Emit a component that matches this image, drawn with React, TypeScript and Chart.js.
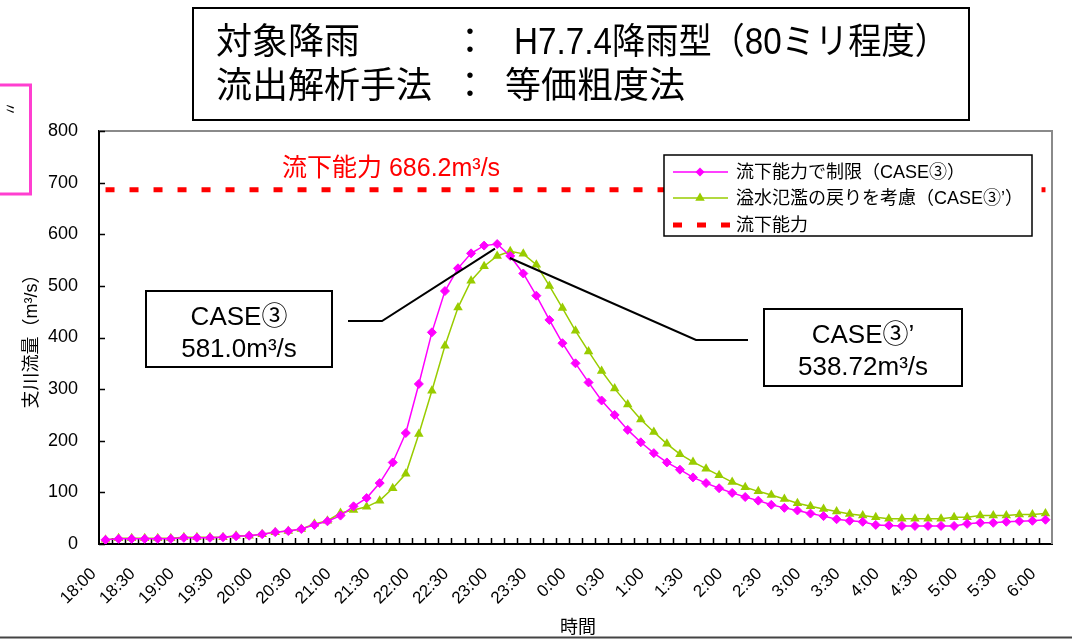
import React, { useEffect, useRef } from "react";
import { Chart, registerables } from "chart.js";

Chart.register(...registerables);

const FONT = "'Liberation Sans', 'Noto Sans CJK JP', sans-serif";

const TIMES = [
  "18:00", "18:10", "18:20", "18:30", "18:40", "18:50",
  "19:00", "19:10", "19:20", "19:30", "19:40", "19:50",
  "20:00", "20:10", "20:20", "20:30", "20:40", "20:50",
  "21:00", "21:10", "21:20", "21:30", "21:40", "21:50",
  "22:00", "22:10", "22:20", "22:30", "22:40", "22:50",
  "23:00", "23:10", "23:20", "23:30", "23:40", "23:50",
  "0:00", "0:10", "0:20", "0:30", "0:40", "0:50",
  "1:00", "1:10", "1:20", "1:30", "1:40", "1:50",
  "2:00", "2:10", "2:20", "2:30", "2:40", "2:50",
  "3:00", "3:10", "3:20", "3:30", "3:40", "3:50",
  "4:00", "4:10", "4:20", "4:30", "4:40", "4:50",
  "5:00", "5:10", "5:20", "5:30", "5:40", "5:50",
  "6:00",
];

const TICK_LABELS = [
  "18:00", "18:30", "19:00", "19:30", "20:00", "20:30", "21:00", "21:30",
  "22:00", "22:30", "23:00", "23:30", "0:00", "0:30", "1:00", "1:30",
  "2:00", "2:30", "3:00", "3:30", "4:00", "4:30", "5:00", "5:30", "6:00",
];

// 流下能力で制限（CASE③）
const CASE3 = [
  8, 10, 10, 10, 10, 10, 12, 12, 12, 13, 15, 16,
  19, 23, 25, 29, 37, 44, 55, 73, 89, 118, 158, 215,
  310, 410, 490, 534, 563, 578, 581, 558, 524, 481, 434, 389,
  350, 313, 278, 250, 221, 197, 176, 158, 144, 129, 118, 108,
  99, 91, 84, 76, 70, 65, 59, 54, 48, 45, 43, 37,
  36, 35, 35, 35, 35, 35, 39, 41, 41, 43, 44, 45,
  47,
];

// 溢水氾濫の戻りを考慮（CASE③’）
const CASE3P = [
  8, 11, 11, 11, 11, 11, 13, 13, 13, 13, 16, 16,
  19, 23, 25, 29, 39, 45, 60, 66, 72, 84, 108, 136,
  213, 297, 384, 458, 510, 538, 558, 567, 562, 541, 500, 457,
  413, 373, 335, 301, 270, 241, 217, 194, 174, 159, 146, 133,
  120, 110, 102, 95, 87, 79, 73, 68, 63, 58, 55, 52,
  49, 49, 49, 49, 49, 52, 52, 55, 55, 55, 57, 57,
  59,
];

const CAPACITY = 686.2;

const SERIES_NAMES = [
  "流下能力で制限（CASE③）",
  "溢水氾濫の戻りを考慮（CASE③’）",
  "流下能力",
];

const Y_MIN = 0;
const Y_MAX = 800;
const Y_STEP = 100;

const COLORS = ["#ff00ff", "#99cc00", "#ff0000"];

function drawDiamond(ctx: CanvasRenderingContext2D, x: number, y: number, r: number, color: string) {
  ctx.save();
  ctx.fillStyle = color;
  ctx.beginPath();
  ctx.moveTo(x - r, y);
  ctx.lineTo(x, y - r);
  ctx.lineTo(x + r, y);
  ctx.lineTo(x, y + r);
  ctx.closePath();
  ctx.fill();
  ctx.restore();
}

function drawTriangle(ctx: CanvasRenderingContext2D, x: number, y: number, r: number, color: string) {
  ctx.save();
  ctx.fillStyle = color;
  ctx.beginPath();
  for (let k = 0; k < 3; k++) {
    const a = -Math.PI / 2 + (k * 2 * Math.PI) / 3;
    const px = x + Math.cos(a) * r;
    const py = y + Math.sin(a) * r;
    if (k === 0) ctx.moveTo(px, py);
    else ctx.lineTo(px, py);
  }
  ctx.closePath();
  ctx.fill();
  ctx.restore();
}

const decor = {
  id: "decor",
  beforeDatasetsDraw(chart: any) {
    const ctx: CanvasRenderingContext2D = chart.ctx;
    const { left, right, top, bottom } = chart.chartArea;
    const xs = chart.scales.x;
    const ys = chart.scales.y;
    ctx.save();
    // plot border (top / right)
    ctx.strokeStyle = "#8a8a8a";
    ctx.lineWidth = 2;
    ctx.beginPath();
    ctx.moveTo(left, top);
    ctx.lineTo(right, top);
    ctx.lineTo(right, bottom);
    ctx.stroke();
    // inward tick marks
    ctx.strokeStyle = "#000";
    ctx.lineWidth = 1.5;
    ctx.beginPath();
    for (let i = 0; i < TIMES.length - 1; i++) {
      const bx = Math.round((xs.getPixelForValue(i) + xs.getPixelForValue(i + 1)) / 2) + 0.5;
      ctx.moveTo(bx, bottom);
      ctx.lineTo(bx, bottom - 6);
    }
    for (const t of ys.ticks) {
      const py = Math.round(ys.getPixelForValue(t.value)) + 0.5;
      ctx.moveTo(left, py);
      ctx.lineTo(left + 6, py);
    }
    ctx.stroke();
    ctx.restore();
  },
  afterDraw(chart: any) {
    const ctx: CanvasRenderingContext2D = chart.ctx;
    const xs = chart.scales.x;
    const ys = chart.scales.y;
    ctx.save();

    // title box
    ctx.fillStyle = "#fff";
    ctx.fillRect(193, 8, 776, 112);
    ctx.strokeStyle = "#000";
    ctx.lineWidth = 2;
    ctx.strokeRect(193, 8, 776, 112);
    ctx.fillStyle = "#000";
    ctx.font = `36px ${FONT}`;
    ctx.textBaseline = "middle";
    ctx.textAlign = "left";
    ctx.fillText("対象降雨", 216, 44, 148);
    ctx.fillText("H7.7.4降雨型（80ミリ程度）", 514, 44, 434);
    ctx.fillText("流出解析手法", 216, 88, 226);
    ctx.fillText("等価粗度法", 505, 88, 188);
    ctx.textAlign = "center";
    ctx.fillText("：", 470, 44);
    ctx.fillText("：", 470, 88);

    // pink fragment box on the left
    ctx.strokeStyle = "#ff3fd0";
    ctx.lineWidth = 3;
    ctx.strokeRect(-5, 85, 35.5, 109);
    ctx.save();
    ctx.translate(9, 109);
    ctx.rotate(Math.PI / 2);
    ctx.fillStyle = "#000";
    ctx.font = `15px ${FONT}`;
    ctx.textAlign = "center";
    ctx.fillText("〃", 0, 0);
    ctx.restore();

    // capacity label
    ctx.fillStyle = "#ff0000";
    ctx.font = `25px ${FONT}`;
    ctx.textAlign = "left";
    ctx.textBaseline = "middle";
    ctx.fillText(`流下能力 ${CAPACITY.toFixed(1)}m³/s`, 282, 169, 233);

    // legend
    const lx = 664, ly = 155, lw = 368, lh = 81;
    ctx.fillStyle = "#fff";
    ctx.fillRect(lx, ly, lw, lh);
    ctx.strokeStyle = "#000";
    ctx.lineWidth = 1.5;
    ctx.strokeRect(lx, ly, lw, lh);
    const rows = [172, 198, 225];
    ctx.font = `18px ${FONT}`;
    for (let k = 0; k < 3; k++) {
      const ry = rows[k];
      ctx.save();
      ctx.strokeStyle = COLORS[k];
      if (k < 2) {
        ctx.lineWidth = 1.5;
        ctx.beginPath();
        ctx.moveTo(673, ry);
        ctx.lineTo(728, ry);
        ctx.stroke();
        if (k === 0) drawDiamond(ctx, 700, ry, 4.5, COLORS[0]);
        else drawTriangle(ctx, 700, ry, 5.5, COLORS[1]);
      } else {
        ctx.lineWidth = 5;
        ctx.lineCap = "butt";
        ctx.setLineDash([9, 15]);
        ctx.beginPath();
        ctx.moveTo(673, ry);
        ctx.lineTo(730, ry);
        ctx.stroke();
      }
      ctx.restore();
      ctx.fillStyle = "#000";
      ctx.textAlign = "left";
      ctx.textBaseline = "middle";
      ctx.fillText(SERIES_NAMES[k], 736, ry + 1);
    }

    // annotation callouts
    const peak3Idx = CASE3.indexOf(Math.max(...CASE3));
    const peak3pIdx = CASE3P.indexOf(Math.max(...CASE3P));
    ctx.strokeStyle = "#000";
    ctx.lineWidth = 2;
    ctx.beginPath();
    ctx.moveTo(348, 321);
    ctx.lineTo(382, 321);
    ctx.lineTo(xs.getPixelForValue(peak3Idx - 0.17), ys.getPixelForValue(572));
    ctx.stroke();
    ctx.beginPath();
    ctx.moveTo(748, 340);
    ctx.lineTo(696, 340);
    ctx.lineTo(xs.getPixelForValue(peak3pIdx - 0.03), ys.getPixelForValue(554));
    ctx.stroke();

    const box = (x: number, y: number, w: number, h: number, l1: string, l2: string, y1: number, y2: number) => {
      ctx.fillStyle = "#fff";
      ctx.fillRect(x, y, w, h);
      ctx.strokeStyle = "#000";
      ctx.lineWidth = 2;
      ctx.strokeRect(x, y, w, h);
      ctx.fillStyle = "#000";
      ctx.font = `26px ${FONT}`;
      ctx.textAlign = "center";
      ctx.textBaseline = "middle";
      ctx.fillText(l1, x + w / 2, y1);
      ctx.fillText(l2, x + w / 2, y2);
    };
    box(146, 291, 186, 76, "CASE③", "581.0m³/s", 318, 350);
    box(764, 309, 198, 77, "CASE③’", "538.72m³/s", 336, 368);

    // axis titles
    ctx.fillStyle = "#000";
    ctx.font = `18px ${FONT}`;
    ctx.textAlign = "center";
    ctx.textBaseline = "middle";
    ctx.fillText("時間", 578, 628);
    ctx.save();
    ctx.translate(32, 337);
    ctx.rotate(-Math.PI / 2);
    ctx.fillText("支川流量（m³/s）", 0, 0);
    ctx.restore();

    // bottom frame line
    ctx.strokeStyle = "#444";
    ctx.lineWidth = 2;
    ctx.beginPath();
    ctx.moveTo(0, 637.5);
    ctx.lineTo(1072, 637.5);
    ctx.stroke();

    ctx.restore();
  },
};

export default function App() {
  const ref = useRef<HTMLCanvasElement | null>(null);

  useEffect(() => {
    if (!ref.current) return;
    const chart = new Chart(ref.current, {
      type: "line",
      data: {
        labels: TIMES,
        datasets: [
          {
            label: SERIES_NAMES[0],
            data: CASE3,
            borderColor: COLORS[0],
            backgroundColor: COLORS[0],
            borderWidth: 1.5,
            pointStyle: "rectRot",
            pointRadius: 4.5,
            pointBorderWidth: 1,
            pointBackgroundColor: COLORS[0],
            pointBorderColor: COLORS[0],
            tension: 0,
          },
          {
            label: SERIES_NAMES[1],
            data: CASE3P,
            borderColor: COLORS[1],
            backgroundColor: COLORS[1],
            borderWidth: 1.5,
            pointStyle: "triangle",
            pointRadius: 5.5,
            pointBorderWidth: 0,
            pointBackgroundColor: COLORS[1],
            pointBorderColor: COLORS[1],
            tension: 0,
          },
          {
            label: SERIES_NAMES[2],
            data: TIMES.map(() => CAPACITY),
            borderColor: COLORS[2],
            backgroundColor: COLORS[2],
            borderWidth: 5,
            borderDash: [9, 15],
            borderCapStyle: "butt",
            pointRadius: 0,
            tension: 0,
          },
        ],
      },
      options: {
        animation: false,
        responsive: false,
        devicePixelRatio: 1,
        events: [],
        layout: { padding: { top: 131, right: 14, left: 0, bottom: 0 } },
        plugins: {
          legend: { display: false },
          tooltip: { enabled: false },
          title: { display: false },
        },
        scales: {
          x: {
            type: "category",
            offset: true,
            grid: { display: false },
            border: { display: true, color: "#000", width: 2 },
            ticks: {
              autoSkip: false,
              minRotation: 45,
              maxRotation: 45,
              padding: 12,
              labelOffset: -12,
              color: "#000",
              font: { size: 17, family: FONT },
              callback: (_v: any, i: number) => (TICK_LABELS.includes(TIMES[i]) ? TIMES[i] : ""),
            },
            afterFit: (s: any) => {
              s.height = 97;
            },
          },
          y: {
            min: Y_MIN,
            max: Y_MAX,
            grid: { display: false },
            border: { display: true, color: "#000", width: 2 },
            ticks: {
              stepSize: Y_STEP,
              padding: 13,
              color: "#000",
              font: { size: 18, family: FONT },
            },
            afterFit: (s: any) => {
              s.width = 99;
            },
          },
        },
      },
      plugins: [decor],
    });
    return () => chart.destroy();
  }, []);

  return (
    <div style={{ position: "fixed", left: 0, top: 0, width: 1072, height: 641, background: "#fff" }}>
      <canvas ref={ref} width={1072} height={641} style={{ display: "block" }} />
    </div>
  );
}
